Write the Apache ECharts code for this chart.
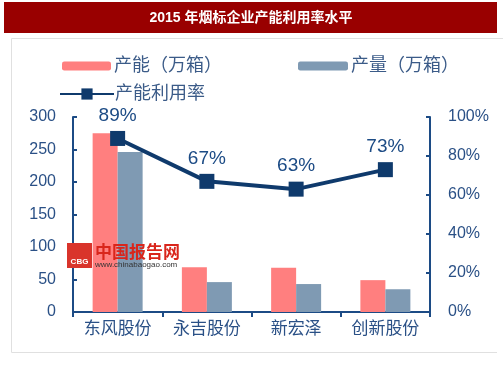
<!DOCTYPE html>
<html>
<head>
<meta charset="utf-8">
<script src="https://cdn.jsdelivr.net/npm/echarts@6/dist/echarts.min.js"></script>
<style>
  html, body { margin: 0; padding: 0; background: #fff; }
  #chart { width: 503px; height: 378px; }
</style>
</head>
<body>
<div id="chart"></div>
<script>
// 数据
const companies = ['东风股份', '永吉股份', '新宏泽', '创新股份']
const capacity = [275, 69, 68, 49]      // 产能（万箱）
const output = [246, 46, 43, 35]        // 产量（万箱）
const utilization = [89, 67, 63, 73]    // 产能利用率 %

const navy = '#0f3a6c'
const axisBlue = '#1c4b85'
const font = '"Liberation Sans", "Noto Sans CJK SC", sans-serif'

const chart = echarts.init(document.getElementById('chart'))

const option = {
  animation: false,
  textStyle: { fontFamily: font },
  graphic: [
    // 标题栏
    { type: 'rect', shape: { x: 4, y: 2, width: 493, height: 31 }, style: { fill: '#990000' }, silent: true },
    { type: 'text', x: 251, y: 18, style: { text: '2015 年烟标企业产能利用率水平', fill: '#fff', font: 'bold 14px "Liberation Sans", "Noto Sans CJK SC"', align: 'center', verticalAlign: 'middle' } },
    // 边框
    { type: 'line', shape: { x1: 11.5, y1: 38.5, x2: 503, y2: 38.5 }, style: { stroke: '#e0e0e0', lineWidth: 1 }, silent: true },
    { type: 'line', shape: { x1: 11.5, y1: 38.5, x2: 11.5, y2: 352.5 }, style: { stroke: '#e0e0e0', lineWidth: 1 }, silent: true },
    { type: 'line', shape: { x1: 11.5, y1: 352.5, x2: 497, y2: 352.5 }, style: { stroke: '#e0e0e0', lineWidth: 1 }, silent: true },
    // 水印
    { type: 'rect', shape: { x: 67, y: 243, width: 25, height: 25 }, style: { fill: '#d9342b' }, silent: true, z: 100 },
    { type: 'text', x: 79.5, y: 262, style: { text: 'CBG', fill: '#fff', font: 'bold 8px "Liberation Sans"', align: 'center', verticalAlign: 'middle' }, z: 100 },
    { type: 'text', x: 95, y: 252, style: { text: '中国报告网', fill: '#d9261c', font: 'bold 17px "Noto Sans CJK SC"', verticalAlign: 'middle' }, z: 100 },
    { type: 'text', x: 95, y: 265, style: { text: 'www.chinabaogao.com', fill: '#333', font: '8px "Liberation Sans"', verticalAlign: 'middle' }, z: 100 }
  ],
  legend: [
    {
      data: ['产能（万箱）'],
      left: 57, top: 52,
      itemWidth: 49, itemHeight: 9, itemGap: 0,
      textStyle: { color: '#3b5b88', fontSize: 18, fontFamily: font, padding: [0, 0, 0, -2] }
    },
    {
      data: ['产量（万箱）'],
      left: 293, top: 52,
      itemWidth: 50, itemHeight: 9,
      textStyle: { color: '#3b5b88', fontSize: 18, fontFamily: font, padding: [0, 0, 0, -2] }
    },
    {
      data: ['产能利用率'],
      left: 54, top: 80,
      itemWidth: 54, itemHeight: 14,
      textStyle: { color: '#3b5b88', fontSize: 18, fontFamily: font, padding: [0, 0, 0, -4] }
    }
  ],
  grid: { left: 73, right: 73, top: 117, bottom: 66 },
  xAxis: {
    type: 'category',
    data: companies,
    axisLine: { lineStyle: { color: axisBlue, width: 2 } },
    axisTick: { show: true, length: 5, lineStyle: { color: axisBlue, width: 2 } },
    axisLabel: { color: '#2a5086', fontSize: 17, margin: 9 }
  },
  yAxis: [
    {
      type: 'value', min: 0, max: 300, interval: 50,
      axisLine: { show: true, lineStyle: { color: axisBlue, width: 2 } },
      axisTick: { show: true, inside: true, length: 4, lineStyle: { color: axisBlue, width: 2 } },
      axisLabel: { color: '#2a5086', fontSize: 16, margin: 17 },
      splitLine: { show: false }
    },
    {
      type: 'value', min: 0, max: 100, interval: 20,
      axisLine: { show: true, lineStyle: { color: axisBlue, width: 2 } },
      axisTick: { show: true, inside: true, length: 4, lineStyle: { color: axisBlue, width: 2 } },
      axisLabel: { color: '#2a5086', fontSize: 16, margin: 18, formatter: '{value}%' },
      splitLine: { show: false }
    }
  ],
  series: [
    {
      name: '产能（万箱）',
      type: 'bar',
      data: capacity,
      barWidth: 25,
      barGap: '0%',
      itemStyle: { color: '#ff7f7f' }
    },
    {
      name: '产量（万箱）',
      type: 'bar',
      data: output,
      barWidth: 25,
      itemStyle: { color: '#7f9ab3' }
    },
    {
      name: '产能利用率',
      type: 'line',
      yAxisIndex: 1,
      data: utilization,
      symbol: 'rect',
      symbolSize: 15,
      lineStyle: { color: navy, width: 4 },
      itemStyle: { color: navy },
      label: {
        show: true,
        position: 'top',
        distance: 6,
        formatter: '{c}%',
        color: '#1c4b85',
        fontSize: 19,
        fontFamily: font
      }
    }
  ]
}

chart.setOption(option)
</script>
</body>
</html>
